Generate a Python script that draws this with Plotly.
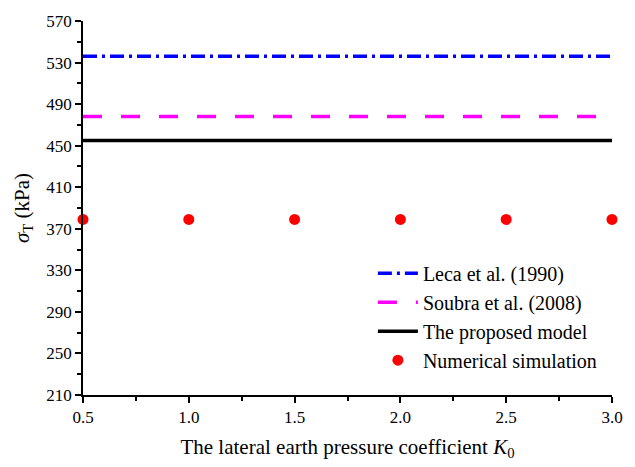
import plotly.graph_objects as go

k0 = [0.5, 1.0, 1.5, 2.0, 2.5, 3.0]
leca = [536, 536, 536, 536, 536, 536]
soubra = [478, 478, 478, 478, 478, 478]
proposed = [455, 455, 455, 455, 455, 455]
numerical = [379, 379, 379, 379, 379, 379]

font_family = "Liberation Serif"

fig = go.Figure()
fig.add_trace(go.Scatter(x=k0, y=leca, mode="lines", name="Leca et al. (1990)",
                         line=dict(color="#0000ff", width=3.5, dash="14px,5px,3px,5px")))
fig.add_trace(go.Scatter(x=k0, y=soubra, mode="lines", name="Soubra et al. (2008)",
                         line=dict(color="#ff00ff", width=3.5, dash="19px,19px")))
fig.add_trace(go.Scatter(x=k0, y=proposed, mode="lines", name="The proposed model",
                         line=dict(color="#000000", width=3.5)))
fig.add_trace(go.Scatter(x=k0, y=numerical, mode="markers", name="Numerical simulation",
                         marker=dict(color="#ff0000", size=11), cliponaxis=False))

axis_common = dict(showline=True, linecolor="black", linewidth=1.5, ticks="outside",
                   ticklen=6, tickwidth=1.5, tickcolor="black", showgrid=False, zeroline=False,
                   mirror=False, tickfont=dict(size=17, color="black", family=font_family))

fig.update_xaxes(range=[0.5, 3.0], tickvals=k0, ticktext=[f"{v:.1f}" for v in k0],
                 minor=dict(dtick=0.25, tick0=0.5, ticks="outside", ticklen=4, tickwidth=1.5, tickcolor="black"),
                 title=dict(text="The lateral earth pressure coefficient <i>K</i><sub>0</sub>",
                            font=dict(size=21, color="black", family=font_family), standoff=13),
                 **axis_common)
fig.update_yaxes(range=[210, 570], dtick=40, tick0=210,
                 minor=dict(dtick=20, tick0=210, ticks="outside", ticklen=4, tickwidth=1.5, tickcolor="black"),
                 title=dict(text="<i>σ</i><sub>T</sub> (kPa)",
                            font=dict(size=21, color="black", family=font_family), standoff=11),
                 **axis_common)

fig.update_layout(width=635, height=467, margin=dict(l=83, r=19, t=16, b=67),
                  plot_bgcolor="white", paper_bgcolor="white",
                  font=dict(family=font_family, color="black"),
                  legend=dict(x=0.548, y=0.378, xanchor="left", yanchor="top",
                              bgcolor="rgba(0,0,0,0)", font=dict(size=20, family=font_family, color="black"),
                              tracegroupgap=0, itemwidth=40))

fig.write_html("out.html")
